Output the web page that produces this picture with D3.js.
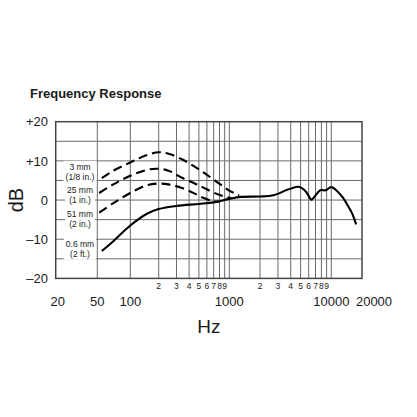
<!DOCTYPE html>
<html>
<head>
<meta charset="utf-8">
<script src="https://cdn.jsdelivr.net/npm/d3@7"></script>
<style>
  body { margin: 0; background: #fff; }
  text { font-family: "Liberation Sans", Arial, sans-serif; fill: #1a1a1a; }
</style>
</head>
<body>
<script>
// response curves (Hz, dB)
var freqClose = [55, 70, 100, 150, 200, 250, 340, 450, 560, 700, 870, 1000, 1250];
var db3mm     = [5.6, 7.5, 9.6, 11.5, 12.2, 11.8, 10.4, 8.6, 7.0, 5.2, 3.5, 2.4, 1.2];

var freq25    = [52, 70, 100, 150, 195, 250, 340, 450, 560, 700, 870, 1050];
var db25mm    = [1.8, 4.0, 6.2, 7.7, 8.0, 7.5, 5.7, 4.3, 3.1, 1.9, 1.0, 0.5];

var freq51    = [52, 70, 100, 150, 195, 250, 340, 450, 560, 700, 800];
var db51mm    = [-3.2, -0.8, 1.8, 3.8, 4.2, 4.0, 3.1, 1.7, 0.5, -0.3, -0.4];

var freqFar   = [55, 70, 100, 150, 200, 300, 500, 700, 1000, 1300, 2000, 2700, 3700, 4700, 5100, 5700, 6400, 7000, 7800, 8800, 10000, 11500, 13000, 14500, 16000, 17500];
var db06m     = [-13, -10.5, -6.5, -3.5, -2.3, -1.5, -1.0, -0.6, 0.3, 0.8, 0.9, 1.2, 2.6, 3.4, 3.1, 2.0, 0.1, 1.2, 2.5, 2.5, 3.3, 2.2, 0.6, -1.4, -3.4, -6.2];

var distLabels = [["3 mm", "(1/8 in.)"], ["25 mm", "(1 in.)"], ["51 mm", "(2 in.)"], ["0.6 mm", "(2 ft.)"]];

var yTicks = [20, 10, 0, -10, -20];
var yTickLabels = ["+20", "+10", "0", "\u201310", "\u201320"];
var yGrid = [-15, -10, -5, 0, 5, 10, 15];

var xMajor = [20, 50, 100, 1000, 10000, 20000];
var xGrid = [50, 100, 200, 300, 400, 500, 600, 700, 800, 900, 1000,
             2000, 3000, 4000, 5000, 6000, 7000, 8000, 9000, 10000];
var xMinor = [200, 300, 400, 500, 600, 700, 800, 900,
              2000, 3000, 4000, 5000, 6000, 7000, 8000, 9000];

var width = 417, height = 417;

var svg = d3.select("body").append("svg")
    .attr("width", width)
    .attr("height", height);

// the printed grid is not quite a pure log, so map it piecewise
var x = d3.scaleLog()
    .domain([20, 50, 100, 200, 1000, 10000, 20000])
    .range([55.7, 97.3, 130.3, 158.7, 229.3, 331.3, 362]);
var y = d3.scaleLinear().domain([-20, 20]).range([278.4, 121.7]);

svg.append("text")
    .attr("x", 30).attr("y", 98)
    .style("font-size", "13px").style("font-weight", "bold")
    .text("Frequency Response");

//grid
var grid = svg.append("g");
grid.selectAll(".h").data(yGrid).enter().append("line")
    .attr("x1", x(20)).attr("x2", x(20000))
    .attr("y1", function(d) { return y(d); })
    .attr("y2", function(d) { return y(d); })
    .attr("stroke", "#6a6a6a").attr("stroke-width", 1);
grid.selectAll(".v").data(xGrid).enter().append("line")
    .attr("y1", y(20)).attr("y2", y(-20))
    .attr("x1", function(d) { return x(d); })
    .attr("x2", function(d) { return x(d); })
    .attr("stroke", "#6a6a6a").attr("stroke-width", 1);
svg.append("rect")
    .attr("x", x(20)).attr("y", y(20))
    .attr("width", x(20000) - x(20)).attr("height", y(-20) - y(20))
    .attr("fill", "none").attr("stroke", "#444").attr("stroke-width", 1.5);

//y labels
svg.selectAll(".ylab").data(yTicks).enter().append("text")
    .attr("x", 48)
    .attr("y", function(d) { return y(d); })
    .attr("dy", "0.36em")
    .attr("text-anchor", "end")
    .style("font-size", "13px")
    .text(function(d, i) { return yTickLabels[i]; });

svg.append("text")
    .attr("transform", "translate(23," + y(0) + ") rotate(-90)")
    .attr("text-anchor", "middle")
    .style("font-size", "20px")
    .text("dB");

//x labels
svg.selectAll(".xmin").data(xMinor).enter().append("text")
    .attr("x", function(d) { return x(d); })
    .attr("y", 289)
    .attr("text-anchor", "middle")
    .style("font-size", "8.5px")
    .text(function(d) { return String(d)[0]; });

svg.selectAll(".xmaj").data(xMajor).enter().append("text")
    .attr("x", function(d) { return x(d) + (d === 20000 ? 12 : d === 20 ? 2 : 0); })
    .attr("y", 306)
    .attr("text-anchor", "middle")
    .style("font-size", "13px")
    .text(function(d) { return d; });

svg.append("text")
    .attr("x", (x(20) + x(20000)) / 2).attr("y", 333)
    .attr("text-anchor", "middle")
    .style("font-size", "19px")
    .text("Hz");

//distance labels, white box behind so the grid is broken
var labelAt = [7.2, 1.2, -4.9, -12.4];
distLabels.forEach(function(lines, i) {
  var g = svg.append("g");
  var t = g.append("text")
      .attr("text-anchor", "middle")
      .style("font-size", "8.5px");
  lines.forEach(function(s, j) {
    t.append("tspan")
        .attr("x", 80)
        .attr("y", y(labelAt[i]) - 2 + j * 10)
        .text(s);
  });
  var b = t.node().getBBox();
  g.insert("rect", "text")
      .attr("x", b.x - 2).attr("y", b.y - 1)
      .attr("width", b.width + 4).attr("height", b.height + 2)
      .attr("fill", "#fff");
});

//curves
var line = d3.line()
    .x(function(d) { return x(d[0]); })
    .y(function(d) { return y(d[1]); })
    .curve(d3.curveCatmullRom);

var series = [
  { f: freqClose, v: db3mm, dash: "9,5" },
  { f: freq25, v: db25mm, dash: "9,5" },
  { f: freq51, v: db51mm, dash: "9,5" },
  { f: freqFar, v: db06m, dash: null }
];

svg.selectAll(".curve").data(series).enter().append("path")
    .attr("d", function(s) { return line(d3.zip(s.f, s.v)); })
    .attr("fill", "none")
    .attr("stroke", "#000")
    .attr("stroke-width", 2.1)
    .attr("stroke-dasharray", function(s) { return s.dash; });
</script>
</body>
</html>
